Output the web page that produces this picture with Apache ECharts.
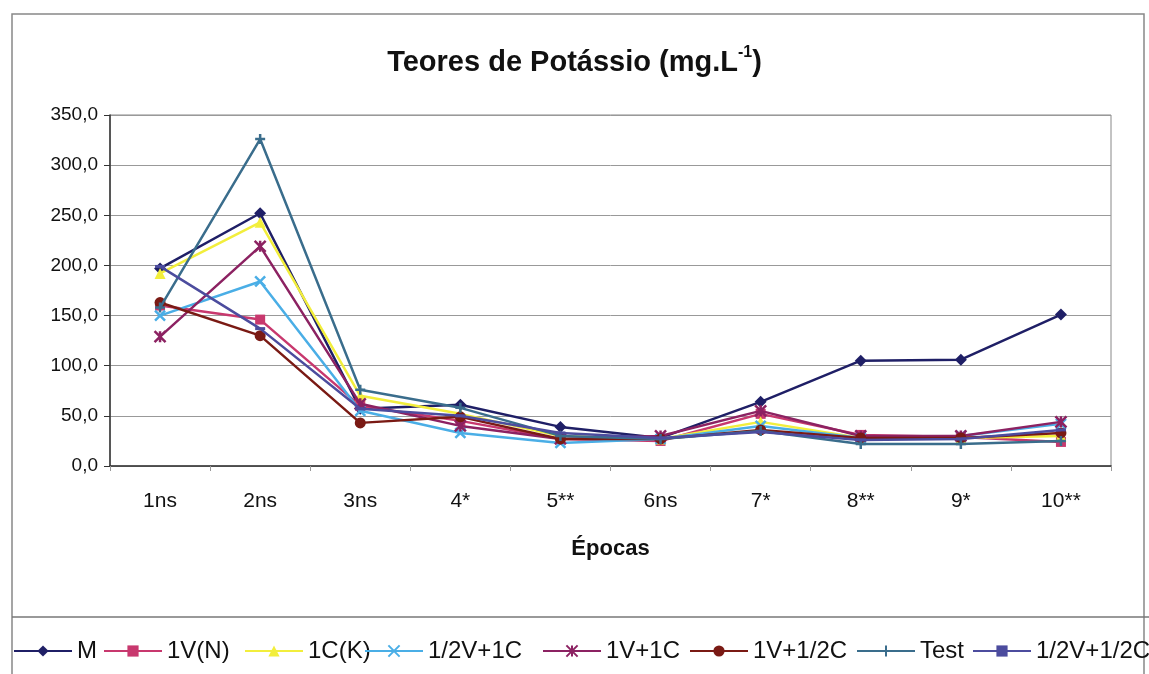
<!DOCTYPE html>
<html>
<head>
<meta charset="utf-8">
<script src="https://cdn.jsdelivr.net/npm/echarts@6/dist/echarts.min.js"></script>
<style>
  html, body { margin: 0; padding: 0; background: #fff; }
  #chart { width: 1149px; height: 674px; }
</style>
</head>
<body>
<div id="chart"></div>
<script>
  // categorias (épocas)
  const categories = ['1ns', '2ns', '3ns', '4*', '5**', '6ns', '7*', '8**', '9*', '10**']
  const yTicks = [0, 50, 100, 150, 200, 250, 300, 350]

  // teores
  const serieM = [197, 252, 57, 61, 39, 28, 64, 105, 106, 151]
  const serie1VN = [160, 146, 60, 45, 27, 25, 52, 31, 29, 24]
  const serie1CK = [192, 243, 70, 52, 30, 27, 44, 28, 28, 30]
  const serieMeioV1C = [150, 184, 55, 33, 23, 27, 40, 28, 30, 42]
  const serie1V1C = [129, 219, 62, 40, 27, 30, 55, 30, 30, 44]
  const serie1VMeioC = [163, 130, 43, 49, 27, 27, 36, 28, 28, 33]
  const serieTest = [158, 326, 76, 58, 30, 27, 35, 22, 22, 25]
  const serieMeioVMeioC = [199, 137, 57, 50, 33, 28, 34, 26, 27, 36]

  const names = ['M', '1V(N)', '1C(K)', '1/2V+1C', '1V+1C', '1V+1/2C', 'Test', '1/2V+1/2C']
  const values = [serieM, serie1VN, serie1CK, serieMeioV1C, serie1V1C, serie1VMeioC, serieTest, serieMeioVMeioC]
  const colors = ['#1f1f66', '#c8386e', '#f2ee3c', '#4aaee6', '#8c2262', '#7a1a14', '#3a6d8c', '#4c4c9e']
  const symbols = [
    'diamond',
    'rect',
    'triangle',
    'path://M0,0L10,10M10,0L0,10',
    'path://M0,0L10,10M10,0L0,10M5,0L5,10',
    'circle',
    'path://M5,0L5,10M0,5L10,5',
    'path://M0,0L10,0L10,3L0,3Z',
  ]
  const symbolSizes = [12, 10, 11, 10, 11, 11, 10, [10, 3]]
  const strokeSymbols = [false, false, false, true, true, false, true, false]
  // início do texto de cada item da legenda
  const legendText = [76, 166, 307, 427, 605, 752, 919, 1035]

  const chart = echarts.init(document.getElementById('chart'))

  const series = names.map((name, i) => ({
    name: name,
    type: 'line',
    data: values[i],
    symbol: symbols[i],
    symbolSize: symbolSizes[i],
    lineStyle: { color: colors[i], width: 2.5 },
    itemStyle: strokeSymbols[i]
      ? { color: colors[i], borderColor: colors[i], borderWidth: 2.5 }
      : { color: colors[i] },
    z: 2 + i,
  }))

  const legends = names.map((name, i) => ({
    data: [name],
    left: legendText[i] - 68,
    top: 634,
    itemWidth: 58,
    itemHeight: 14,
    textStyle: { fontFamily: 'Liberation Sans', fontSize: 24, color: '#111' },
  }))

  chart.setOption({
    backgroundColor: '#fff',
    animation: false,
    title: {
      text: '{a|Teores de Potássio (mg.L}{s|-1}{a|)}',
      left: 'center',
      top: 40,
      textStyle: {
        rich: {
          a: { fontFamily: 'Liberation Sans', fontSize: 29, fontWeight: 'bold', color: '#111', lineHeight: 36 },
          s: { fontFamily: 'Liberation Sans', fontSize: 16, fontWeight: 'bold', color: '#111', lineHeight: 20, verticalAlign: 'top' },
        },
      },
    },
    legend: legends,
    grid: {
      left: 110,
      right: 38,
      top: 115,
      bottom: 208,
      show: true,
      borderColor: '#888',
      borderWidth: 1,
    },
    xAxis: {
      type: 'category',
      data: categories,
      boundaryGap: true,
      name: 'Épocas',
      nameLocation: 'middle',
      nameGap: 72,
      nameTextStyle: { fontFamily: 'Liberation Sans', fontSize: 22, fontWeight: 'bold', color: '#111' },
      axisLine: { lineStyle: { color: '#333', width: 1.5 } },
      axisTick: { show: true, length: 5, lineStyle: { color: '#999' } },
      axisLabel: { fontFamily: 'Liberation Sans', fontSize: 21, color: '#111', margin: 25 },
    },
    yAxis: {
      type: 'value',
      min: yTicks[0],
      max: yTicks[yTicks.length - 1],
      interval: 50,
      axisLine: { show: true, lineStyle: { color: '#333', width: 1.5 } },
      axisTick: { show: true, length: 6, lineStyle: { color: '#333' } },
      axisLabel: {
        fontFamily: 'Liberation Sans',
        fontSize: 19,
        color: '#111',
        margin: 12,
        formatter: (v) => v.toFixed(1).replace('.', ','),
      },
      splitLine: { lineStyle: { color: '#999', width: 1 } },
    },
    graphic: [
      {
        type: 'rect',
        shape: { x: 12, y: 14, width: 1132, height: 700 },
        style: { fill: 'none', stroke: '#888', lineWidth: 1.5 },
        silent: true,
      },
      {
        type: 'line',
        shape: { x1: 12, y1: 617, x2: 1149, y2: 617 },
        style: { stroke: '#777', lineWidth: 1.5 },
        silent: true,
      },
    ],
    series: series,
  })
</script>
</body>
</html>
